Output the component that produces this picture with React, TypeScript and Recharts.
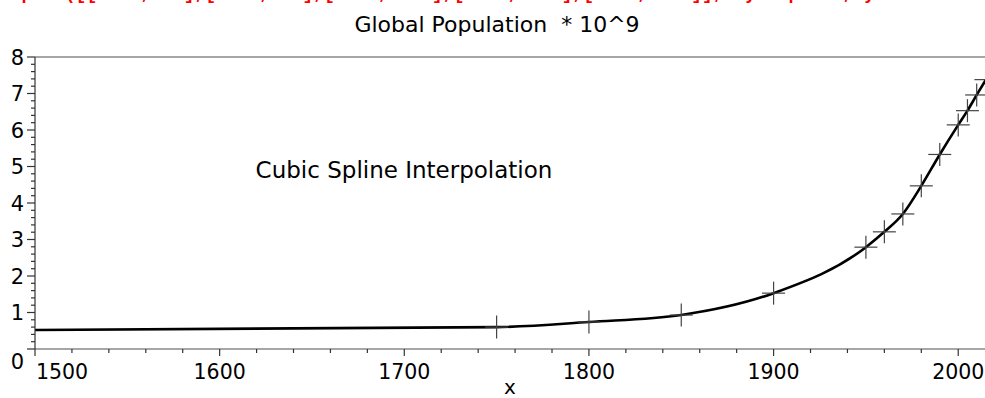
import React from "react";
import { LineChart, Line, XAxis, YAxis, ReferenceLine } from "recharts";

// world population samples (billions)
const years = [1500, 1750, 1800, 1850, 1900, 1950, 1960, 1970, 1980, 1990, 2000, 2005, 2010, 2015];
const population = [0.52, 0.6, 0.74, 0.93, 1.53, 2.79, 3.21, 3.7, 4.47, 5.33, 6.14, 6.53, 6.96, 7.38];

const xLabels = [1500, 1600, 1700, 1800, 1900, 2000];
const yLabels = [0, 1, 2, 3, 4, 5, 6, 7, 8];

const title = "Global Population  * 10^9";
const note = "Cubic Spline Interpolation";
const xName = "x";
const command = "> plot([[1750,.79],[1800,.98],[1850,1.26],[1900,1.65],[1950,2.52]],style=point,symbol=cross);";

const data = years.map((year, i) => ({ year, pop: population[i] }));

// minor ticks: every 20 years, every 0.2
const xTicks = Array.from({ length: 26 }, (_, i) => 1500 + i * 20);
const yTicks = Array.from({ length: 41 }, (_, i) => i / 5);

const W = 985;
const H = 398;
const FONT = "DejaVu Sans";

function XTick(props: any) {
  const { x, y, payload } = props;
  const v = payload.value;
  const major = xLabels.includes(v);
  const shift = v === xLabels[0] ? 27 : 0;
  return (
    <g>
      <line x1={x} y1={y} x2={x} y2={y + (major ? 7 : 4)} stroke="#333" strokeWidth={1.2} />
      {major && (
        <text x={x + shift} y={y + 30} textAnchor="middle" fontSize={20.5} fontFamily={FONT} fill="#000">
          {v}
        </text>
      )}
    </g>
  );
}

function YTick(props: any) {
  const { x, y, payload } = props;
  const v = payload.value;
  const major = Math.abs(v - Math.round(v)) < 1e-6;
  const drop = Math.round(v) === yLabels[0] ? 12 : 0;
  return (
    <g>
      <line x1={x - (major ? 8 : 4)} y1={y} x2={x} y2={y} stroke="#333" strokeWidth={1.2} />
      {major && (
        <text x={x - 11} y={y + 7.5 + drop} textAnchor="end" fontSize={21} fontFamily={FONT} fill="#000">
          {Math.round(v)}
        </text>
      )}
    </g>
  );
}

function renderCross(p: any) {
  const { cx, cy, index } = p;
  if (index === 0) return <g key={`c${index}`} />;
  const r = 11.5;
  return (
    <g key={`c${index}`}>
      <line x1={cx - r} y1={cy} x2={cx + r} y2={cy} stroke="#444" strokeWidth={1.2} />
      <line x1={cx} y1={cy - r} x2={cx} y2={cy + r} stroke="#444" strokeWidth={1.2} />
    </g>
  );
}

export default function App() {
  return (
    <div style={{ position: "absolute", left: 0, top: 0, width: W, height: H, background: "#fff" }}>
      <LineChart width={W} height={H} data={data} margin={{ top: 57, right: 0, bottom: 0, left: 0 }}>
        <XAxis
          type="number"
          dataKey="year"
          domain={[1500, 2014.5]}
          allowDataOverflow
          ticks={xTicks}
          interval={0}
          tick={XTick}
          tickLine={false}
          tickSize={0}
          tickMargin={0}
          height={49}
          axisLine={{ stroke: "#888", strokeWidth: 1.5 }}
          label={{ value: xName, position: "insideBottom", offset: 4, fontSize: 20, fill: "#000", fontFamily: FONT }}
        />
        <YAxis
          type="number"
          domain={[0, 8]}
          ticks={yTicks}
          interval={0}
          tick={YTick}
          tickLine={false}
          tickSize={0}
          tickMargin={0}
          width={35}
          axisLine={{ stroke: "#333", strokeWidth: 1.2 }}
        />
        <ReferenceLine y={8} stroke="#888" strokeWidth={1.5} />
        <Line
          type="monotoneX"
          dataKey="pop"
          stroke="#000"
          strokeWidth={2.6}
          dot={renderCross}
          activeDot={false}
          isAnimationActive={false}
        />
      </LineChart>
      <svg
        width={W}
        height={H}
        style={{ position: "absolute", left: 0, top: 0, pointerEvents: "none" }}
      >
        <text x={0} y={-1} fontSize={18} fontFamily="Liberation Mono" fontWeight="bold" fill="#f00">
          {command}
        </text>
        <text
          x={497}
          y={32}
          textAnchor="middle"
          fontSize={22}
          fontFamily={FONT}
          fill="#000"
          style={{ whiteSpace: "pre" }}
        >
          {title}
        </text>
        <text x={404} y={178} textAnchor="middle" fontSize={23} fontFamily={FONT} fill="#000">
          {note}
        </text>
      </svg>
    </div>
  );
}
